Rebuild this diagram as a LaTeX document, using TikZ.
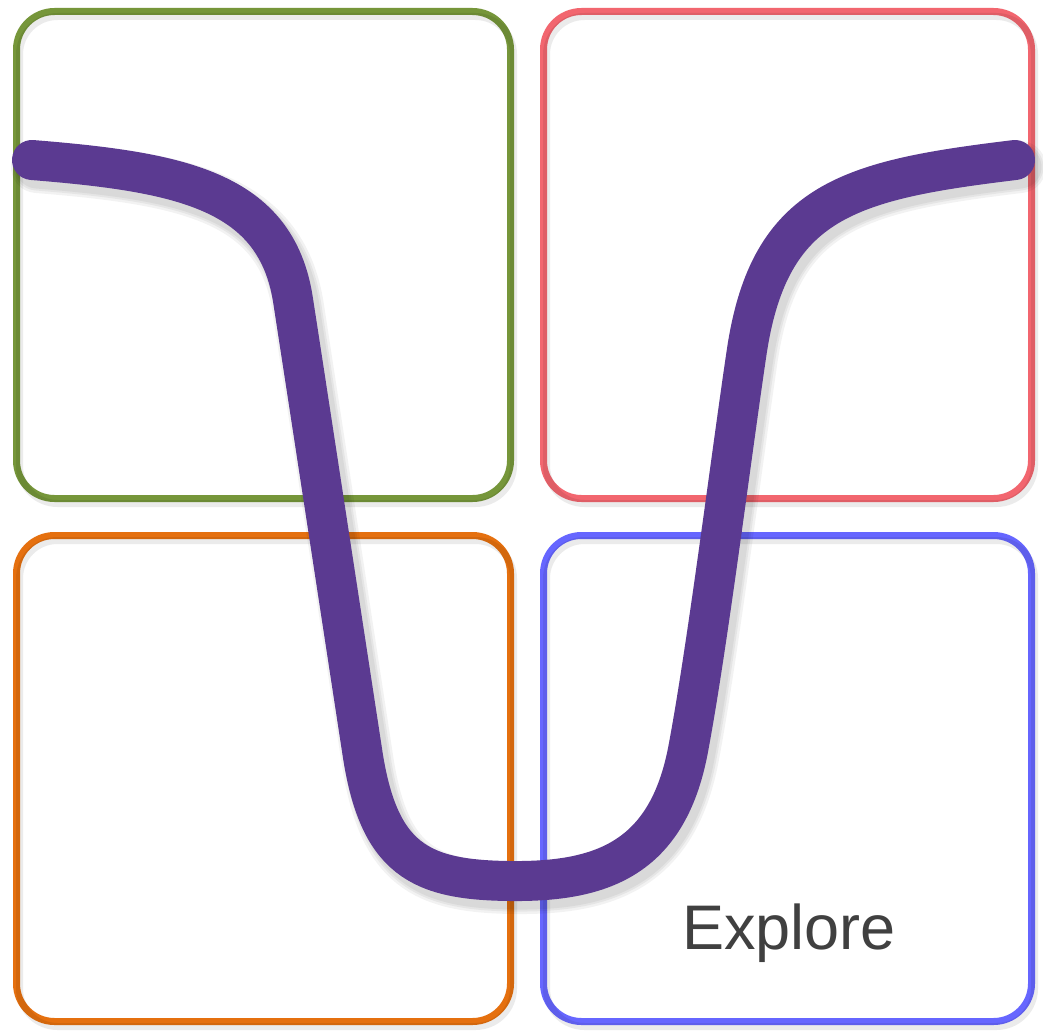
\documentclass[tikz,border=0pt]{standalone}
\usepackage{fontspec}
\setmainfont{Liberation Sans}
\definecolor{cgreen}{HTML}{76963A}
\definecolor{cred}{HTML}{F2666F}
\definecolor{corange}{HTML}{E5700F}
\definecolor{cblue}{HTML}{6666FF}
\definecolor{cpurple}{HTML}{5B3A91}
\definecolor{ctext}{HTML}{404040}
\begin{document}
\begin{tikzpicture}[x=1pt,y=-1pt,
  quad/.style={line width=7pt, rounded corners=38pt, inner sep=0pt, outer sep=0pt},
  boxshadow/.style={line width=7pt, rounded corners=38pt, black, opacity=0.08},
  wave/.style={line width=40pt, line cap=round, cpurple},
  waveshadow/.style={line cap=round, black, opacity=0.05}]
\useasboundingbox (0,0) rectangle (1043,1030);
\fill[white] (0,0) rectangle (1043,1030);
\node[quad, draw=cgreen, minimum width=494pt, minimum height=487pt] (g) at (263.5,255) {};
\node[quad, draw=cred, minimum width=488pt, minimum height=487pt] (r) at (787.5,255) {};
\node[quad, draw=corange, minimum width=494pt, minimum height=486pt] (o) at (263.5,778.5) {};
\node[quad, draw=cblue, minimum width=488pt, minimum height=486pt] (b) at (787.5,778.5) {};
\foreach \n in {g,r,o,b}{
  \draw[boxshadow] ([shift={(3,5)}]\n.north west) rectangle ([shift={(3,5)}]\n.south east);
}
\node[text=ctext, font=\fontsize{63pt}{63pt}\selectfont, inner sep=0pt] (explore) at (789,933) {Explore};
\coordinate (s) at (32,160);
\coordinate (e) at (1015,160);
\foreach \w in {52,47,43}{
\begin{scope}[shift={(5,7)}]
\draw[waveshadow, line width=\w pt] (32,160) .. controls (180,172) and (276,190) .. (293,300)
  .. controls (310,410) and (339,600) .. (362,750)
  .. controls (378,860) and (420,880) .. (510,881)
  .. controls (600,882) and (667,860) .. (688,750)
  .. controls (707,650) and (732,450) .. (747,350)
  .. controls (770,200) and (850,180) .. (1015,160);
\end{scope}
}
\draw[wave] (s) .. controls (180,172) and (276,190) .. (293,300)
  .. controls (310,410) and (339,600) .. (362,750)
  .. controls (378,860) and (420,880) .. (510,881)
  .. controls (600,882) and (667,860) .. (688,750)
  .. controls (707,650) and (732,450) .. (747,350)
  .. controls (770,200) and (850,180) .. (e);
\end{tikzpicture}
\end{document}
